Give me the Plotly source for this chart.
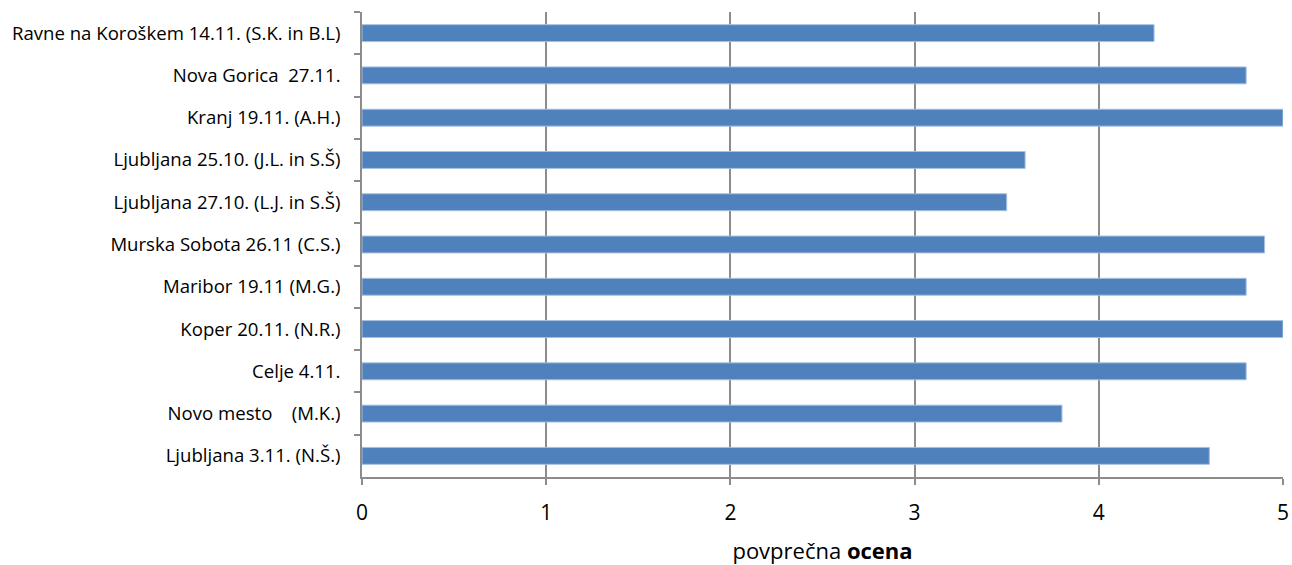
import plotly.graph_objects as go

categories = [
    "Ravne na Koroškem 14.11. (S.K. in B.L)",
    "Nova Gorica  27.11.",
    "Kranj 19.11. (A.H.)",
    "Ljubljana 25.10. (J.L. in S.Š)",
    "Ljubljana 27.10. (L.J. in S.Š)",
    "Murska Sobota 26.11 (C.S.)",
    "Maribor 19.11 (M.G.)",
    "Koper 20.11. (N.R.)",
    "Celje 4.11.",
    "Novo mesto    (M.K.)",
    "Ljubljana 3.11. (N.Š.)",
]
values = [4.3, 4.8, 5.0, 3.6, 3.5, 4.9, 4.8, 5.0, 4.8, 3.8, 4.6]
x_ticks = [0, 1, 2, 3, 4, 5]

fig = go.Figure(go.Bar(
    x=values,
    y=[c.replace("    ", "&nbsp;&nbsp;&nbsp;&nbsp;").replace("  ", "&nbsp;&nbsp;") for c in categories],
    orientation="h",
    marker=dict(color="#4F81BD", line=dict(color="#A7C0DE", width=1)),
    width=0.4,
))

font_family = "'Open Sans', sans-serif"
fig.update_layout(
    width=1292, height=565,
    margin=dict(l=362, r=9, t=12, b=88),
    paper_bgcolor="white", plot_bgcolor="white",
    font=dict(family=font_family, color="black"),
    showlegend=False,
    xaxis=dict(
        range=[0, 5], tickvals=x_ticks, ticktext=[str(t) for t in x_ticks],
        automargin=False,
        ticklabeloverflow="allow",
        showgrid=True, gridcolor="#8C8C8C", gridwidth=1.5,
        showline=True, linecolor="#8C8C8C", linewidth=1.5,
        ticks="outside", ticklen=6, tickcolor="#8C8C8C", tickwidth=1.5,
        tickfont=dict(size=21, family=font_family),
        ticklabelstandoff=10,
        title=dict(text="povprečna <b>ocena</b>", font=dict(size=22, family=font_family), standoff=25),
        zeroline=False,
    ),
    yaxis=dict(
        autorange="reversed",
        automargin=False,
        showgrid=False,
        showline=True, linecolor="#8C8C8C", linewidth=1.5,
        ticks="outside", ticklen=6, tickcolor="#8C8C8C", tickwidth=1.5,
        tickson="boundaries",
        tickfont=dict(size=18.6, family=font_family),
        ticklabelstandoff=16,
    ),
)

fig.write_html(
    "out.html",
    config={"displayModeBar": False},
    post_script="document.body.style.margin='0';document.body.style.overflow='hidden';",
)
